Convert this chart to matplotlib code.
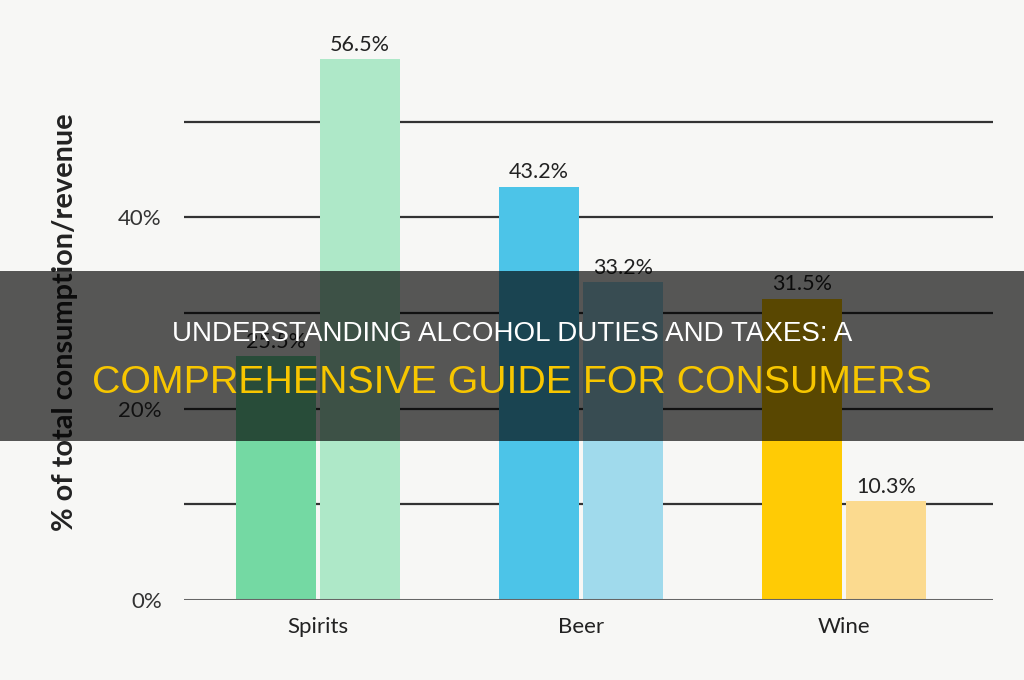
import numpy as np
import matplotlib
matplotlib.use("Agg")
import matplotlib.pyplot as plt
from matplotlib.patches import Rectangle

# --- data ---
categories = ["Spirits", "Beer", "Wine"]
consumption = [25.5, 43.2, 31.5]
revenue = [56.5, 33.2, 10.3]
dark_colors = ["#74D9A3", "#4CC4E8", "#FFCB05"]
light_colors = ["#AEE8C8", "#A0DAEC", "#FBDA8F"]
y_ticks = [0, 20, 40]
grid_levels = [10, 20, 30, 40, 50]

title_line1 = "UNDERSTANDING ALCOHOL DUTIES AND TAXES: A"
title_line2 = "COMPREHENSIVE GUIDE FOR CONSUMERS"

W, H = 1024, 680
bg = "#F7F7F5"

fig = plt.figure(figsize=(W / 100, H / 100), dpi=100, facecolor=bg)
ax = fig.add_axes([184 / W, (H - 600) / H, (993 - 184) / W, 600 / H])
ax.set_facecolor(bg)

x = np.arange(len(categories))
bw = 0.305
off = 0.16

for lvl in grid_levels:
    ax.axhline(lvl, color="#333333", lw=1.6, zorder=1)
ax.axhline(0, color="#666666", lw=2.2, zorder=3)

b1 = ax.bar(x - off, consumption, bw, color=dark_colors, zorder=2)
b2 = ax.bar(x + off, revenue, bw, color=light_colors, zorder=2)

for bars, vals in [(b1, consumption), (b2, revenue)]:
    for rect, v in zip(bars, vals):
        ax.annotate(f"{v}%", (rect.get_x() + rect.get_width() / 2, v),
                    xytext=(0, 3), textcoords="offset points",
                    ha="center", va="bottom", fontsize=15.5,
                    family="Lato", color="#222222")

ax.set_xlim(-0.51, 2.567)
ax.set_ylim(0, 62.7)
ax.set_yticks(y_ticks)
ax.set_yticklabels([f"{t}%" for t in y_ticks], family="Lato", fontsize=16, color="#333333")
ax.set_xticks(x)
ax.set_xticklabels(categories, family="Lato", fontsize=16, color="#222222")
ax.tick_params(axis="both", length=0)
ax.tick_params(axis="y", pad=16)
ax.tick_params(axis="x", pad=12)
for s in ax.spines.values():
    s.set_visible(False)

fig.text(65 / W, 1 - 322 / H, "% of total consumption/revenue", rotation=90,
         ha="center", va="center", family="Lato", fontweight="bold",
         fontsize=20.8, color="#222222")

# dark banner with the title
fig.patches.append(Rectangle((0, 1 - 441 / H), 1, 170 / H, transform=fig.transFigure,
                             facecolor="black", alpha=0.65, zorder=10))
fig.text(0.5, 1 - 334 / H, title_line1, ha="center", va="center",
         family="Liberation Sans", fontsize=20, color="white", zorder=11)
fig.text(0.5, 1 - 383 / H, title_line2, ha="center", va="center",
         family="Liberation Sans", fontsize=28.3, color="#F7C600", zorder=11)

fig.savefig("out.png", dpi=100, facecolor=bg)
